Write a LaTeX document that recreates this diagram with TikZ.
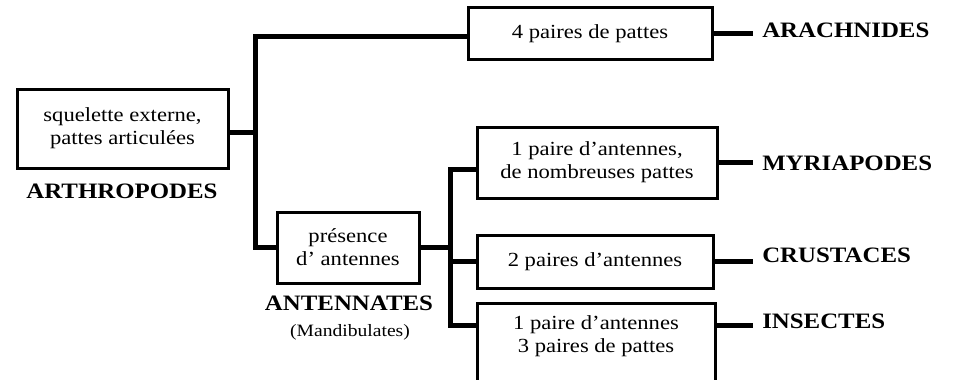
\documentclass[tikz,border=0pt]{standalone}
\usepackage{fontspec}
\setmainfont{Liberation Serif}[FakeStretch=1.13]
\usetikzlibrary{calc}
\begin{document}
\begin{tikzpicture}[x=0.75pt,y=-0.75pt,
  box/.style={draw, line width=2.25pt, inner sep=0pt, align=center,
    font=\fontsize{15pt}{17.25pt}\selectfont},
  boxtxt/.style={inner sep=0pt, align=center, font=\fontsize{15pt}{17.25pt}\selectfont},
  conn/.style={line width=3.75pt},
  grp/.style={font=\fontsize{16.5pt}{18pt}\selectfont\bfseries, inner sep=0pt, anchor=base},
  lab/.style={font=\fontsize{16.5pt}{18pt}\selectfont\bfseries, inner xsep=6.75pt, inner ysep=0pt, anchor=base west}]
\useasboundingbox (0,0) rectangle (953,379);

% boxes
\node[box, minimum width=158.25pt, minimum height=59.25pt] (b1) at (122.5,128.5) {squelette externe,\\pattes articulées};
\node[box, minimum width=183pt, minimum height=39pt] (b2) at (590,33.5) {4 paires de pattes};
\node[box, minimum width=106.5pt, minimum height=53.25pt] (b3) at (348,247.5) {présence\\d’ antennes};
\node[box, minimum width=180pt, minimum height=53.25pt] (b4) at (597,162.5) {1 paire d’antennes,\\de nombreuses pattes};
\node[box, minimum width=177pt, minimum height=39.75pt] (b5) at (595,261.5) {2 paires d’antennes};
\node[box, minimum width=178.5pt, minimum height=67.5pt, anchor=north] (b6) at (596,302) {};
\node[boxtxt] (b6t) at (596,336) {1 paire d’antennes\\3 paires de pattes};

% group names
\node[grp] (arth) at (122,198) {ARTHROPODES};
\node[grp] (ant) at (349,310) {ANTENNATES};
\node[inner sep=0pt, anchor=base, font=\fontsize{13pt}{15pt}\selectfont] (mand) at (350,336) {(Mandibulates)};

% final labels
\node[lab] (arach) at (753,37) {ARACHNIDES};
\node[lab] (myria) at (753,170) {MYRIAPODES};
\node[lab] (crust) at (753,262) {CRUSTACES};
\node[lab] (insect) at (753,328) {INSECTES};

% junctions
\coordinate (j1) at (255,132);
\coordinate (j2) at (450,247.5);
\coordinate (b2in) at ($(b2.west)+(0,3)$);
\coordinate (b4in) at ($(b4.west)+(0,6.5)$);
\coordinate (b6l) at ($(b6.north west)+(0,23)$);
\coordinate (b6r) at ($(b6.north east)+(0,23)$);

% connectors
\draw[conn] (b1.east |- j1) -- (j1);
\draw[conn] (b2in) -| (j1) |- (b3.west);
\draw[conn] (b3.east) -- (j2);
\draw[conn] (b4in) -| (j2) |- (b6l);
\draw[conn] (j2) |- (b5.west);

\draw[conn] (b2.east) -- (b2.east -| arach.west);
\draw[conn] (b4.east) -- (b4.east -| myria.west);
\draw[conn] (b5.east) -- (b5.east -| crust.west);
\draw[conn] (b6r) -- (b6r -| insect.west);
\end{tikzpicture}
\end{document}
